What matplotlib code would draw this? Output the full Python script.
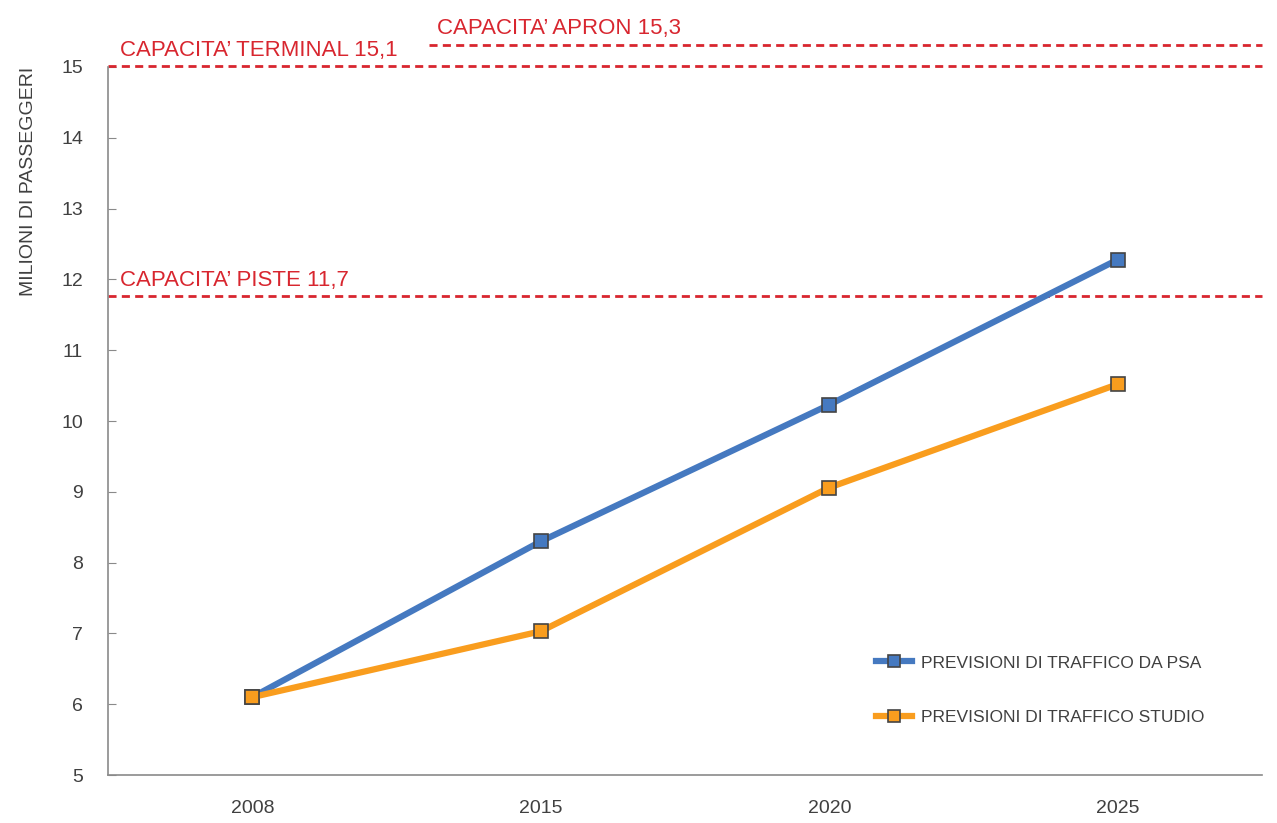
import matplotlib.pyplot as plt

plt.rcParams['font.family'] = ['Liberation Sans', 'DejaVu Sans']

years = ['2008', '2015', '2020', '2025']
psa = [6.1, 8.3, 10.23, 12.28]
studio = [6.1, 7.03, 9.06, 10.52]

cap_labels = ['CAPACITA’ TERMINAL 15,1', 'CAPACITA’ APRON 15,3', 'CAPACITA’ PISTE 11,7']
cap_levels = [15.02, 15.31, 11.77]

blue = '#4579C0'
orange = '#F99D1E'
red = '#D8262F'
grey_text = '#404040'

fig = plt.figure(figsize=(12.77, 8.23), dpi=100)
ax = fig.add_axes([0.0846, 0.0583, 0.9037, 0.8603])

x = list(range(len(years)))
ax.plot(x, psa, color=blue, lw=4.5, marker='s', ms=10, mfc=blue, mec='#444444',
        mew=1.2, label='PREVISIONI DI TRAFFICO DA PSA', zorder=3)
ax.plot(x, studio, color=orange, lw=4.5, marker='s', ms=10, mfc=orange, mec='#444444',
        mew=1.2, label='PREVISIONI DI TRAFFICO STUDIO', zorder=4)

ax.set_xlim(-0.5, 3.5)
ax.set_ylim(5, 15)
ax.set_xticks(x)
ax.set_xticklabels(years)
ax.set_yticks(range(5, 16))

# capacity lines, partly above the top of the axes like the original
dash = (0, (2.9, 1.9))
ax.axhline(cap_levels[0], xmin=0.0, xmax=1.0, color=red, lw=2, ls=dash, clip_on=False)
ax.axhline(cap_levels[1], xmin=0.278, xmax=1.0, color=red, lw=2, ls=dash, clip_on=False)
ax.axhline(cap_levels[2], xmin=0.0, xmax=1.0, color=red, lw=2, ls=dash, clip_on=False)

ax.text(-0.458, cap_levels[0] + 0.13, cap_labels[0], color=red, fontsize=16, va='baseline', clip_on=False)
ax.text(0.640, cap_levels[1] + 0.155, cap_labels[1], color=red, fontsize=16, va='baseline', clip_on=False)
ax.text(-0.458, cap_levels[2] + 0.14, cap_labels[2], color=red, fontsize=16, va='baseline', clip_on=False)

for side in ['top', 'right']:
    ax.spines[side].set_visible(False)
for side in ['left', 'bottom']:
    ax.spines[side].set_color('#8a8a8a')
    ax.spines[side].set_linewidth(1.2)

ax.tick_params(axis='y', direction='in', length=6, color='#8a8a8a', labelsize=14,
               labelcolor=grey_text, pad=18)
ax.tick_params(axis='x', length=0, labelsize=14, labelcolor=grey_text, pad=18)
ax.set_ylabel('MILIONI DI PASSEGGERI', fontsize=14, color=grey_text)
ax.yaxis.set_label_coords(-0.0615, 0.839)

ax.legend(loc='upper left', bbox_to_anchor=(0.6655, 0.169), frameon=False, fontsize=12.5,
          handlelength=2.1, handletextpad=0.5, labelspacing=2.28, borderpad=0, borderaxespad=0,
          labelcolor=grey_text, markerscale=0.85)

fig.savefig('out.png', dpi=100)
